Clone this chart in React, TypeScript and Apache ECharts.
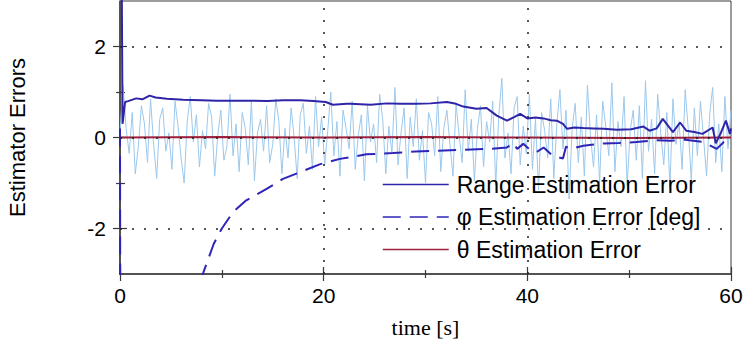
import React, { useEffect, useRef } from "react";
import * as echarts from "echarts";

const xTicks = [0, 20, 40, 60];
const yTickLabels = [-2, 0, 2];
const yMinorTicks = [-1, 1];
const gridX = [20, 40];
const gridY = [-2, 0, 2];

const seriesNames = ["Range Estimation Error", "φ Estimation Error [deg]", "θ Estimation Error"];
const seriesColors = ["#2e24a8", "#2e24b8", "#a0203c"];

// Range estimation error [t, value]
const rangeData: number[][] = [
  [0, 10], [0.25, 0.3], [0.5, 0.78], [0.8, 0.8], [1.6, 0.86], [2.2, 0.84], [2.9, 0.92], [3.5, 0.88],
  [4.6, 0.85], [6.2, 0.83], [8, 0.82], [9.5, 0.81], [11, 0.81], [12.8, 0.81], [14.5, 0.8], [16, 0.82],
  [17.7, 0.82], [19, 0.8], [20.2, 0.78], [20.9, 0.72], [22.3, 0.74], [22.6, 0.74], [24.6, 0.72], [26.2, 0.75],
  [27.5, 0.74], [29.1, 0.74], [30.5, 0.75], [32.1, 0.78], [33.0, 0.74], [33.7, 0.68], [35, 0.63], [36, 0.65],
  [37, 0.48], [38, 0.37], [38.7, 0.45], [39.3, 0.52], [40, 0.42], [40.8, 0.44], [41.6, 0.42], [42.3, 0.38],
  [42.9, 0.37], [43.5, 0.3], [43.9, 0.19], [44.6, 0.22], [45.5, 0.21], [46.5, 0.2], [47.5, 0.19], [48.8, 0.17],
  [50.2, 0.18], [51.4, 0.24], [52, 0.15], [52.7, 0.2], [53.3, 0.41], [54.3, 0.12], [55, 0.33], [55.6, 0.15],
  [56.4, 0.12], [57.2, 0.08], [58.2, 0.22], [58.5, -0.13], [59.0, 0.1], [59.5, 0.37], [59.9, 0.08], [60, 0.2],
];

// phi estimation error [t, value]
const phiData: number[][] = [
  [0, 0.2], [0.25, -40], [2, -14], [5, -5.6], [7, -3.7], [8.2, -2.96], [9.2, -2.34], [10, -2.0],
  [11.1, -1.64], [12.4, -1.38], [14.4, -1.13], [16, -0.91], [17.7, -0.76], [19.6, -0.59], [21.6, -0.47],
  [24.2, -0.37], [26.8, -0.34], [29, -0.31], [31.1, -0.29], [33.5, -0.27], [36.4, -0.25], [38, -0.22],
  [38.6, -0.12], [39, -0.25], [39.6, -0.14], [40.3, -0.28], [40.9, -0.32], [41.6, -0.22], [42.5, -0.4],
  [43.5, -0.46], [43.8, -0.2], [44.2, -0.25], [45.5, -0.18], [47.5, -0.13], [49, -0.12], [50.7, -0.1],
  [52.5, -0.06], [54, -0.07], [55.5, -0.05], [57.3, -0.1], [58.6, -0.25], [59.3, -0.1], [60, -0.05],
];

// theta estimation error [t, value]
const thetaData: number[][] = [
  [0, 0], [10, 0.01], [20, 0], [30, 0.01], [40, 0], [50, -0.01], [60, 0],
];

// measurement noise, sampled every 0.3 s
const noiseStep = 0.3;
const noiseValues: number[] = [
  0.10, 1.15, 0.20, -0.35, 0.55, -0.80, -0.20, 0.70, 0.30, -0.55,
  0.85, -0.15, -0.90, 0.40, 0.65, -0.30, 0.10, -0.70, 0.80, 0.25,
  -0.45, -1.00, 0.35, 0.90, -0.10, 0.50, -0.65, 0.15, -0.25, 0.75,
  0.45, -0.85, 0.05, 0.60, -0.50, -0.20, 0.95, -0.40, 0.30, -0.75,
  0.55, 0.20, -0.60, 0.80, -0.95, 0.10, 0.40, -0.30, 0.70, -0.55,
  -0.15, 0.85, 0.35, -0.80, 0.20, -0.45, 0.65, 0.00, -0.90, 0.50,
  0.75, -0.35, 0.25, -0.70, 0.90, -0.20, 0.45,
  -0.60, 0.15, 1.00, -0.40, 0.35, -0.85, 0.60, 0.20, -0.25, 0.80,
  -0.70, 0.05, 0.50, -0.95, 0.70, -0.10, 0.30, -0.55, 0.95, 0.40,
  -0.80, 0.25, -0.35, 1.10, -0.60, 0.10, 0.65, -0.90, 0.45, -0.20,
  0.85, -0.50, 0.15, -1.00, 0.55, 0.30, -0.40, 0.90, -0.75, 0.20,
  0.60, -0.15, -0.85, 0.75, 0.05, -0.55, 1.05, -0.30, 0.40, -0.95,
  0.20, 0.70, -0.65, 0.35, -0.10, 0.80, -1.05, 0.50, 1.30, -0.45,
  0.10, -0.80, 0.65, 0.90, -0.60, 0.25, -0.35,
  0.95, -0.70, 0.40, -1.15, 0.55, 0.15, -0.45, 0.85, -0.90, 0.30,
  1.05, -0.25, 0.60, -1.35, 0.20, 0.75, -0.55, 0.45, -0.85, 1.15,
  0.05, -0.65, 0.50, -1.00, 0.80, 0.25, -0.40, 1.20, -0.75, 0.35,
  -0.20, 0.90, -1.05, 0.15, 0.60, -0.50, 0.70, -0.90, 1.25, -0.30,
  0.40, -0.80, 0.95, 0.10, -0.60, 0.55, -1.10, 0.85, -0.15, 0.35,
  -0.70, 1.05, 0.20, -0.95, 0.65, -0.40, 0.80, 0.00, -0.85, 0.50,
  1.10, -0.55, 0.30, -0.75, 0.90, -0.25, 0.60,
];

const SANS = "'Liberation Sans', Arial, sans-serif";
const SERIF = "'Liberation Serif', 'Times New Roman', serif";
const AXIS_COLOR = "#3a3a3a";

export default function App() {
  const ref = useRef<HTMLDivElement>(null);
  useEffect(() => {
    if (!ref.current) return;
    const chart = echarts.init(ref.current, undefined, { renderer: "svg" });
    const noiseData = noiseValues.map((v, i) => [Math.round(i * noiseStep * 100) / 100, v]);

    const baseX = { type: "value", min: 0, max: 60, interval: 20, gridIndex: 0, position: "bottom" };
    const baseY = { type: "value", min: -3, max: 3, interval: 1, gridIndex: 0, position: "left" };

    const option: any = {
      animation: false,
      backgroundColor: "#ffffff",
      grid: {
        left: 120, right: 14, top: 1, bottom: 76,
        containLabel: false,
        outerBoundsMode: "none",
        show: true, borderColor: AXIS_COLOR, borderWidth: 1, backgroundColor: "transparent",
      },
      legend: {
        show: true,
        data: seriesNames.map((n, i) => ({
          name: n,
          itemStyle: { opacity: 0, borderWidth: 0 },
          lineStyle: { color: seriesColors[i], width: 1.5 },
        })),
        orient: "vertical",
        left: 382,
        top: 173,
        padding: 0,
        itemWidth: 66,
        itemHeight: 14,
        itemGap: 9.5,
        textStyle: { fontFamily: SANS, fontSize: 23, color: "#000", lineHeight: 23, padding: [0, 0, 0, 3] },
        selectedMode: false,
      },
      xAxis: [
        {
          ...baseX,
          name: "time [s]",
          nameLocation: "middle",
          nameGap: 42,
          nameTextStyle: { fontFamily: SERIF, fontSize: 22, color: "#000" },
          axisLine: { show: true, onZero: false, lineStyle: { color: AXIS_COLOR, width: 1.5 } },
          axisTick: { show: true, inside: false, length: 7, lineStyle: { color: AXIS_COLOR, width: 1.2 } },
          minorTick: { show: true, splitNumber: 2, length: 4, lineStyle: { color: AXIS_COLOR, width: 1.2 } },
          axisLabel: {
            show: true, margin: 11, fontFamily: SANS, fontSize: 21, color: "#000",
            formatter: (v: number) => (xTicks.includes(v) ? String(v) : ""),
          },
          splitLine: { show: false },
        },
        {
          ...baseX,
          axisLine: { show: false, onZero: false },
          axisTick: { show: true, inside: true, length: 7, lineStyle: { color: AXIS_COLOR, width: 1.2 } },
          minorTick: { show: true, splitNumber: 2, length: 4, lineStyle: { color: AXIS_COLOR, width: 1.2 } },
          axisLabel: { show: false },
          splitLine: { show: false },
        },
      ],
      yAxis: [
        {
          ...baseY,
          name: "Estimator Errors",
          nameLocation: "middle",
          nameGap: 92,
          nameTextStyle: { fontFamily: SANS, fontSize: 22, color: "#000" },
          axisLine: { show: true, onZero: false, lineStyle: { color: AXIS_COLOR, width: 1.5 } },
          axisTick: { show: true, inside: false, length: 7, customValues: yTickLabels, lineStyle: { color: AXIS_COLOR, width: 1.2 } },
          axisLabel: {
            show: true, margin: 14, fontFamily: SANS, fontSize: 21, color: "#000",
            customValues: yTickLabels,
            formatter: (v: number) => (yTickLabels.includes(v) ? String(v) : ""),
          },
          splitLine: { show: false },
        },
        {
          ...baseY,
          axisLine: { show: false, onZero: false },
          axisTick: { show: true, inside: true, length: 7, customValues: yTickLabels, lineStyle: { color: AXIS_COLOR, width: 1.2 } },
          axisLabel: { show: false },
          splitLine: { show: false },
        },
        {
          ...baseY,
          axisLine: { show: false, onZero: false },
          axisTick: { show: true, inside: false, length: 4, customValues: yMinorTicks, lineStyle: { color: AXIS_COLOR, width: 1.2 } },
          axisLabel: { show: false },
          splitLine: { show: false },
        },
        {
          ...baseY,
          axisLine: { show: false, onZero: false },
          axisTick: { show: true, inside: true, length: 5, customValues: yMinorTicks, lineStyle: { color: AXIS_COLOR, width: 1.2 } },
          axisLabel: { show: false },
          splitLine: { show: false },
        },
      ],
      series: [
        {
          name: "noise",
          type: "line",
          data: noiseData,
          symbol: "none",
          lineStyle: { color: "#9cc8ec", width: 1 },
          z: 1,
          markLine: {
            silent: true,
            symbol: "none",
            label: { show: false },
            lineStyle: { color: "#222", type: [2, 10], width: 1.5 },
            data: [
              ...gridX.map((x) => ({ xAxis: x })),
              ...gridY.map((y) => ({ yAxis: y })),
            ],
          },
        },
        {
          name: seriesNames[2],
          type: "line",
          data: thetaData,
          symbol: "none",
          color: seriesColors[2],
          lineStyle: { color: seriesColors[2], width: 2 },
          z: 2,
        },
        {
          name: seriesNames[0],
          type: "line",
          data: rangeData,
          symbol: "none",
          color: seriesColors[0],
          lineStyle: { color: seriesColors[0], width: 2 },
          z: 3,
        },
        {
          name: seriesNames[1],
          type: "line",
          data: phiData,
          symbol: "none",
          color: seriesColors[1],
          lineStyle: { color: seriesColors[1], width: 2, type: [18, 9] },
          z: 3,
        },
      ],
    };
    chart.setOption(option);
    return () => chart.dispose();
  }, []);
  return (
    <div
      ref={ref}
      style={{ position: "absolute", left: 0, top: 0, width: 745, height: 350, background: "#fff" }}
    />
  );
}
